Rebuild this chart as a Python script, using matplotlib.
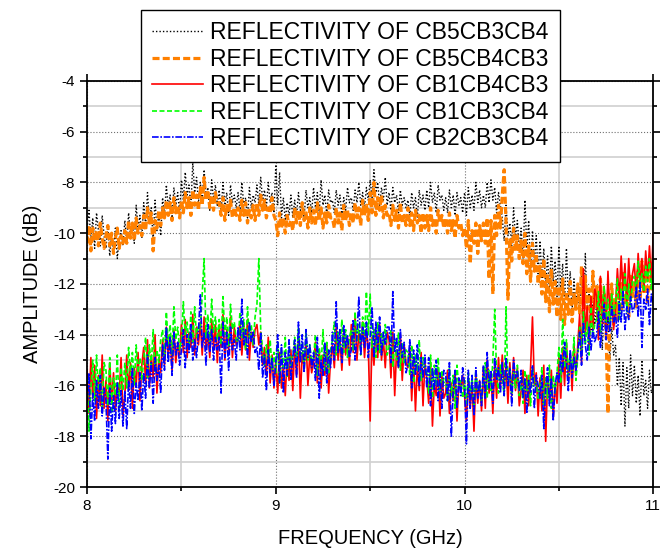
import numpy as np
import matplotlib.pyplot as plt
from matplotlib.ticker import MultipleLocator

plt.rcParams['font.family'] = ['Liberation Sans', 'DejaVu Sans']
plt.rcParams['axes.unicode_minus'] = False

# frequency axis (GHz), 0.01 GHz steps, 8 .. 11
freq = np.round(np.linspace(8.0, 11.0, 301), 2)

# CB5CB3CB4 (black dotted)  - one row per 0.1 GHz
cb5cb3cb4 = [
    -9.8, -9.1, -10.3, -9.4, -10.6, -9.2, -9.9, -10.5, -9.3, -10.1,
    -10.6, -9.7, -10.9, -10.0, -10.7, -9.8, -11.0, -10.2, -9.9, -10.5,
    -9.5, -10.3, -9.2, -10.1, -9.6, -10.4, -8.9, -9.8, -9.3, -10.2,
    -8.8, -9.7, -8.4, -9.5, -9.0, -10.3, -8.7, -9.9, -9.2, -10.1,
    -8.6, -9.3, -8.1, -9.0, -8.5, -9.4, -8.2, -8.9, -8.4, -9.2,
    -7.9, -8.7, -7.6, -8.5, -8.1, -9.0, -7.2, -8.4, -7.8, -8.8,
    -8.0, -8.8, -7.5, -8.6, -8.2, -9.1, -7.9, -8.7, -8.1, -8.9,
    -8.3, -9.2, -8.0, -8.9, -8.4, -9.3, -8.1, -8.8, -8.5, -9.0,
    -8.4, -9.1, -8.0, -8.9, -8.6, -9.4, -8.2, -9.0, -8.5, -8.8,
    -8.1, -8.9, -7.8, -8.7, -8.3, -9.0, -8.0, -8.8, -8.4, -9.2,
    -7.3, -8.9, -7.6, -9.4, -8.6, -9.5, -8.8, -9.3, -8.5, -9.4,
    -8.7, -9.3, -8.4, -9.1, -8.8, -9.4, -8.3, -9.0, -8.6, -9.2,
    -8.2, -9.0, -8.4, -9.2, -7.9, -8.9, -8.5, -9.3, -8.3, -8.8,
    -8.7, -9.2, -8.3, -8.9, -8.5, -9.3, -8.6, -9.1, -8.2, -8.8,
    -8.6, -9.1, -8.3, -8.8, -8.0, -8.9, -8.4, -9.0, -8.2, -8.7,
    -7.9, -8.6, -7.5, -8.4, -8.0, -8.9, -8.2, -8.7, -7.8, -8.9,
    -8.4, -9.1, -8.2, -8.8, -8.5, -9.2, -8.3, -8.9, -8.6, -9.0,
    -8.7, -9.3, -8.4, -9.0, -8.6, -9.4, -8.3, -8.9, -8.5, -9.1,
    -8.3, -9.0, -8.0, -8.8, -8.4, -9.2, -8.1, -8.7, -8.5, -9.1,
    -8.6, -9.2, -8.3, -9.0, -8.5, -9.3, -8.4, -8.9, -8.6, -9.2,
    -8.4, -9.3, -8.2, -9.0, -8.5, -9.1, -8.0, -8.8, -8.3, -9.0,
    -8.5, -9.0, -8.0, -8.8, -7.9, -8.7, -8.2, -9.2, -8.4, -8.9,
    -9.4, -10.3, -8.9, -10.1, -9.6, -10.5, -9.0, -10.2, -9.5, -10.6,
    -9.8, -11.0, -8.7, -10.6, -9.5, -11.4, -9.9, -11.2, -10.1, -11.6,
    -10.3, -11.8, -10.6, -12.1, -10.9, -12.3, -10.5, -11.9, -11.1, -12.5,
    -10.5, -12.3, -11.2, -12.8, -10.6, -12.6, -11.5, -13.0, -11.8, -12.9,
    -12.0, -13.2, -11.6, -13.5, -10.8, -13.0, -12.3, -13.8, -12.5, -13.6,
    -12.8, -14.2, -13.0, -14.6, -12.6, -14.0, -13.4, -15.0, -13.7, -14.8,
    -14.4, -16.0, -14.9, -16.8, -15.1, -17.6, -15.3, -16.9, -14.8, -16.4,
    -15.2, -16.7, -15.6, -17.2, -15.0, -16.4, -15.8, -16.9, -15.4, -16.3,
    -16.0,
]

# CB5CB4CB3 (orange dashed)
cb5cb4cb3 = [
    -10.4, -9.7, -10.7, -9.8, -10.3, -9.9, -10.5, -9.6, -10.2, -10.6,
    -10.1, -9.7, -10.5, -10.0, -10.8, -10.2, -9.8, -10.6, -10.1, -10.4,
    -9.9, -10.4, -9.5, -10.2, -9.6, -10.3, -9.4, -10.0, -9.7, -10.1,
    -9.3, -9.9, -9.0, -9.6, -9.2, -10.7, -9.5, -9.8, -9.1, -9.7,
    -9.0, -9.4, -8.7, -9.3, -8.8, -9.5, -8.6, -9.2, -8.9, -9.4,
    -8.7, -9.2, -8.4, -9.0, -8.6, -9.3, -8.3, -8.9, -8.5, -9.1,
    -8.2, -8.9, -7.8, -8.7, -8.3, -9.0, -8.5, -9.1, -8.4, -8.8,
    -8.8, -9.3, -8.6, -9.5, -8.9, -9.2, -8.7, -9.4, -9.0, -9.3,
    -9.0, -9.5, -8.7, -9.3, -8.8, -9.6, -9.1, -9.4, -8.9, -9.5,
    -8.8, -9.3, -8.5, -9.1, -8.7, -9.4, -9.0, -9.2, -8.6, -9.3,
    -9.5, -10.1, -9.2, -9.8, -9.4, -10.0, -9.3, -9.7, -9.5, -9.9,
    -9.0, -9.6, -9.1, -9.7, -8.8, -9.5, -9.2, -9.8, -9.0, -9.6,
    -9.1, -9.7, -8.8, -9.5, -9.0, -9.8, -9.2, -9.6, -8.9, -9.4,
    -9.4, -9.8, -9.0, -9.6, -9.2, -9.9, -8.9, -9.5, -9.1, -9.7,
    -9.2, -9.6, -8.8, -9.4, -9.0, -9.7, -8.7, -9.3, -8.9, -9.5,
    -8.4, -9.2, -8.0, -9.3, -8.6, -9.1, -8.5, -9.4, -8.9, -9.3,
    -9.2, -9.7, -8.9, -9.5, -9.1, -9.8, -8.8, -9.6, -9.3, -9.7,
    -9.0, -9.7, -9.2, -9.9, -9.1, -9.6, -9.3, -10.0, -9.2, -9.8,
    -9.3, -9.9, -9.0, -9.7, -9.4, -10.0, -9.1, -9.6, -9.3, -9.8,
    -9.4, -10.0, -9.2, -9.9, -9.5, -10.2, -9.3, -9.8, -9.6, -10.1,
    -9.8, -10.6, -9.5, -11.2, -9.9, -10.4, -9.6, -10.8, -9.7, -10.3,
    -9.6, -10.4, -9.4, -11.8, -9.5, -12.4, -9.3, -10.1, -8.9, -9.8,
    -8.5, -7.5, -9.6, -12.6, -10.2, -11.1, -9.8, -10.7, -10.1, -11.0,
    -10.3, -11.2, -10.0, -11.6, -10.5, -11.9, -10.4, -11.5, -10.8, -12.0,
    -11.3, -12.4, -11.0, -12.7, -11.6, -13.1, -11.4, -12.8, -11.9, -13.3,
    -12.1, -13.4, -11.8, -13.6, -12.3, -13.2, -11.9, -13.5, -12.4, -13.0,
    -12.0, -13.2, -11.3, -13.4, -11.7, -13.0, -12.2, -13.6, -11.5, -12.9,
    -12.1, -13.5, -11.8, -13.3, -12.4, -13.9, -17.1, -13.2, -12.0, -13.6,
    -12.6, -13.4, -11.9, -13.1, -11.5, -12.8, -12.2, -13.3, -11.7, -12.5,
    -11.9, -12.9, -11.4, -12.6, -11.1, -12.4, -11.6, -12.8, -11.2, -12.2,
    -11.5,
]

# CB1CB4CB3 (red solid)
cb1cb4cb3 = [
    -15.4, -17.1, -14.9, -16.5, -15.2, -17.3, -15.6, -16.8, -14.8, -16.9,
    -15.8, -17.4, -15.1, -16.7, -15.5, -17.0, -15.9, -16.4, -14.9, -17.2,
    -16.4, -14.8, -16.2, -15.1, -16.9, -15.3, -16.0, -14.7, -16.6, -15.2,
    -14.5, -15.9, -14.2, -16.1, -14.8, -15.7, -14.0, -16.3, -14.9, -15.5,
    -14.2, -15.2, -13.7, -14.9, -14.0, -15.4, -13.8, -15.1, -14.3, -14.8,
    -13.6, -14.7, -13.4, -14.9, -13.9, -14.5, -13.2, -14.8, -13.7, -14.4,
    -13.5, -14.8, -13.3, -14.6, -13.9, -14.9, -13.4, -14.5, -13.6, -15.1,
    -13.6, -14.5, -13.2, -15.0, -13.8, -14.6, -13.3, -14.9, -13.7, -14.4,
    -14.2, -13.5, -14.8, -13.7, -14.6, -13.4, -15.0, -13.9, -14.5, -13.8,
    -13.6, -14.4, -13.9, -15.2, -14.5, -15.6, -14.1, -15.9, -14.8, -16.1,
    -15.0, -16.3, -14.7, -16.1, -15.2, -16.4, -14.9, -15.8, -14.6, -16.2,
    -14.4, -15.6, -14.1, -16.5, -14.7, -15.3, -14.2, -16.0, -14.8, -15.5,
    -15.1, -14.3, -15.9, -14.6, -16.1, -14.8, -15.6, -14.4, -16.3, -15.0,
    -14.4, -15.3, -13.7, -15.0, -14.2, -15.4, -13.9, -14.8, -14.1, -15.2,
    -13.6, -14.7, -13.3, -15.0, -13.9, -14.6, -13.5, -14.9, -13.8, -14.5,
    -17.4, -14.1, -15.2, -13.8, -14.9, -13.6, -15.0, -14.2, -15.3, -13.9,
    -14.2, -15.7, -13.9, -16.4, -14.6, -15.3, -14.0, -15.8, -14.4, -15.1,
    -15.3, -14.5, -16.6, -14.9, -17.0, -15.2, -16.2, -14.7, -16.8, -15.1,
    -15.7, -16.7, -15.1, -17.6, -15.9, -16.4, -15.3, -17.2, -15.6, -16.5,
    -16.3, -15.4, -17.1, -15.9, -16.6, -15.5, -17.4, -15.8, -16.2, -15.6,
    -16.4, -17.4, -15.7, -16.9, -15.9, -17.8, -15.6, -16.7, -15.8, -17.0,
    -15.3, -16.9, -15.0, -16.3, -15.5, -17.1, -15.2, -16.5, -14.9, -16.1,
    -14.8, -16.1, -15.2, -16.7, -15.1, -16.4, -14.9, -16.2, -15.3, -16.8,
    -16.2, -15.4, -17.1, -15.6, -16.8, -15.3, -13.3, -16.0, -15.5, -17.2,
    -15.7, -17.0, -15.2, -18.2, -15.8, -16.6, -15.4, -17.3, -15.9, -16.7,
    -14.9, -16.5, -14.5, -16.0, -14.3, -15.8, -14.7, -16.2, -14.4, -15.6,
    -14.4, -13.2, -15.1, -11.4, -14.0, -12.9, -14.6, -12.5, -13.8, -12.2,
    -12.5, -14.2, -11.7, -13.6, -12.1, -14.0, -11.5, -13.2, -12.4, -13.8,
    -12.9, -11.4, -12.6, -10.9, -12.3, -11.2, -12.8, -11.0, -12.5, -11.6,
    -11.2, -12.5, -10.8, -12.0, -11.0, -12.3, -10.7, -11.8, -10.5, -11.9,
    -10.0,
]

# CB1CB3CB4 (green dashed)
cb1cb3cb4 = [
    -15.7, -17.8, -16.1, -15.0, -16.6, -14.8, -16.2, -15.3, -17.0, -15.1,
    -15.4, -16.8, -14.9, -17.1, -15.7, -16.4, -14.8, -16.9, -15.3, -16.2,
    -15.1, -16.1, -14.5, -15.6, -14.7, -16.0, -14.4, -15.5, -14.9, -15.8,
    -15.0, -14.1, -15.7, -14.4, -15.2, -13.8, -15.5, -14.6, -15.1, -14.2,
    -13.8, -14.9, -13.1, -14.4, -13.6, -14.8, -12.9, -14.2, -13.7, -14.6,
    -14.2, -12.7, -14.0, -13.5, -14.5, -13.1, -14.3, -12.9, -14.1, -13.6,
    -13.8, -12.4, -11.0, -14.1, -13.2, -14.3, -12.6, -13.9, -13.3, -14.2,
    -13.4, -14.4, -12.5, -14.0, -13.3, -14.5, -12.8, -13.8, -13.5, -14.2,
    -14.3, -13.1, -14.1, -13.4, -14.6, -12.9, -14.2, -13.6, -14.4, -13.3,
    -12.8, -11.0, -13.8, -14.6, -15.2, -14.4, -15.0, -14.2, -15.4, -14.7,
    -15.5, -14.3, -15.9, -14.6, -15.3, -14.1, -15.7, -14.5, -15.2, -14.8,
    -14.1, -15.2, -13.7, -14.9, -14.3, -15.4, -13.9, -15.0, -14.4, -15.1,
    -14.9, -14.0, -15.6, -14.5, -15.2, -13.8, -15.4, -14.3, -15.5, -14.6,
    -14.2, -13.5, -14.8, -13.9, -14.6, -13.4, -14.7, -13.8, -14.9, -14.1,
    -13.8, -14.6, -13.1, -14.3, -13.6, -14.8, -13.3, -14.2, -12.3, -14.0,
    -12.4, -14.5, -13.8, -14.9, -13.5, -14.7, -13.9, -14.4, -13.6, -14.8,
    -14.5, -13.8, -15.3, -14.2, -15.0, -13.9, -15.4, -14.3, -15.1, -14.6,
    -14.7, -15.6, -14.4, -15.9, -14.8, -15.4, -14.2, -15.8, -14.9, -15.3,
    -15.5, -16.3, -14.8, -16.5, -15.2, -16.0, -14.9, -16.2, -15.4, -15.9,
    -15.7, -16.6, -15.3, -16.4, -15.6, -16.9, -15.2, -16.1, -15.8, -16.5,
    -15.8, -16.7, -15.5, -16.4, -15.7, -16.9, -15.4, -16.2, -15.9, -16.6,
    -15.9, -15.1, -16.5, -15.4, -16.2, -15.0, -13.0, -15.6, -16.3, -15.2,
    -15.7, -16.4, -12.9, -16.0, -15.3, -16.3, -15.5, -16.1, -15.2, -16.4,
    -15.8, -16.7, -15.4, -16.2, -15.6, -16.8, -15.3, -16.0, -15.9, -16.5,
    -16.0, -15.3, -16.8, -15.7, -16.5, -15.2, -16.9, -15.6, -16.3, -15.5,
    -14.5, -15.9, -13.4, -15.3, -14.2, -15.6, -14.8, -15.4, -14.1, -15.8,
    -14.9, -13.7, -14.6, -13.1, -14.4, -13.5, -14.8, -12.9, -14.1, -13.6,
    -13.4, -12.3, -13.9, -12.9, -12.1, -13.5, -12.6, -13.7, -12.4, -13.2,
    -12.8, -11.8, -13.4, -12.2, -12.6, -11.6, -13.1, -12.0, -12.9, -11.9,
    -11.7, -12.4, -11.1, -12.0, -11.6, -12.3, -11.3, -11.9, -11.0, -12.2,
    -11.5,
]

# CB2CB3CB4 (blue dash-dot)
cb2cb3cb4 = [
    -16.7, -15.5, -18.1, -16.3, -17.4, -15.8, -16.9, -15.6, -17.2, -16.1,
    -16.6, -18.9, -16.1, -17.8, -16.4, -17.5, -15.9, -17.3, -16.2, -17.6,
    -16.2, -17.7, -15.8, -16.9, -15.3, -17.1, -15.9, -16.6, -15.5, -17.0,
    -15.5, -16.5, -14.8, -16.1, -15.1, -16.7, -14.9, -15.8, -15.2, -16.3,
    -14.4, -15.4, -13.7, -15.1, -14.1, -15.6, -13.9, -14.8, -14.3, -15.2,
    -14.6, -13.8, -15.3, -14.0, -14.7, -13.6, -15.0, -14.2, -14.9, -13.9,
    -12.4, -14.5, -13.9, -15.2, -13.6, -14.7, -13.8, -15.0, -14.1, -14.6,
    -14.1, -16.3, -13.5, -14.9, -13.9, -15.4, -13.7, -14.6, -14.2, -15.0,
    -13.7, -14.6, -12.6, -14.4, -13.8, -14.9, -13.5, -14.3, -13.9, -14.7,
    -14.5, -15.4, -13.9, -15.7, -14.8, -16.2, -14.6, -15.5, -14.9, -16.0,
    -15.1, -14.0, -15.9, -14.4, -16.3, -14.7, -15.6, -14.2, -15.8, -14.9,
    -14.2, -15.7, -13.5, -15.1, -14.0, -15.5, -13.8, -14.9, -14.4, -15.3,
    -14.7, -15.8, -14.1, -16.5, -15.0, -15.6, -14.3, -15.9, -14.6, -15.3,
    -13.9, -15.0, -12.7, -14.7, -13.8, -15.1, -13.6, -14.5, -14.0, -14.9,
    -14.6, -13.4, -15.0, -14.0, -12.5, -14.8, -13.7, -14.5, -13.5, -14.9,
    -14.1, -12.9, -14.9, -13.5, -14.6, -13.3, -14.8, -13.9, -14.4, -13.7,
    -13.7, -15.1, -12.3, -14.7, -14.1, -15.3, -13.8, -14.9, -14.3, -15.5,
    -15.2, -14.2, -16.1, -14.6, -15.6, -14.4, -16.0, -14.9, -15.7, -14.8,
    -16.1, -14.9, -16.8, -15.3, -16.2, -15.0, -16.6, -15.5, -16.9, -15.4,
    -15.5, -16.6, -15.1, -18.0, -16.2, -15.4, -16.9, -15.7, -16.4, -15.3,
    -15.9, -18.3, -15.4, -16.9, -15.6, -17.2, -15.3, -16.5, -15.8, -16.8,
    -15.2, -16.5, -14.7, -16.1, -15.4, -16.7, -14.9, -15.8, -15.3, -16.3,
    -15.1, -16.4, -14.9, -16.0, -15.3, -16.8, -15.0, -15.7, -15.4, -16.2,
    -15.4, -16.5, -15.7, -17.1, -15.8, -16.3, -15.2, -16.9, -15.6, -16.0,
    -16.5, -15.6, -17.7, -16.1, -15.3, -16.8, -15.7, -17.4, -16.0, -15.5,
    -15.9, -14.8, -15.5, -14.3, -15.1, -16.2, -14.6, -15.7, -14.9, -15.4,
    -14.7, -13.9, -15.2, -13.5, -14.4, -15.0, -13.7, -14.6, -13.8, -14.3,
    -14.0, -13.1, -14.5, -13.6, -12.8, -14.2, -13.3, -13.9, -12.9, -13.5,
    -13.2, -14.1, -12.7, -13.5, -12.3, -13.8, -12.9, -13.4, -12.5, -13.1,
    -12.9, -12.1, -13.3, -11.9, -14.5, -12.6, -13.0, -12.2, -13.6, -12.4,
    -12.8,
]

fig = plt.figure(figsize=(6.7, 5.5), dpi=100)
ax = fig.add_axes([0.130, 0.1145, 0.845, 0.7385])

ax.plot(freq, cb5cb3cb4, color='black', linestyle=(0, (1, 1.5)), lw=1.0,
        label='REFLECTIVITY OF CB5CB3CB4')
ax.plot(freq, cb5cb4cb3, color='#ff8000', linestyle=(0, (2.2, 1.0)), lw=2.3,
        label='REFLECTIVITY OF CB5CB4CB3')
ax.plot(freq, cb1cb4cb3, color='#ff0000', linestyle='-', lw=1.2,
        label='REFLECTIVITY OF CB1CB4CB3')
ax.plot(freq, cb1cb3cb4, color='#00ff00', linestyle=(0, (3, 1.5)), lw=1.2,
        label='REFLECTIVITY OF CB1CB3CB4')
ax.plot(freq, cb2cb3cb4, color='#0000ff', linestyle=(0, (4, 1, 1, 1)), lw=1.2,
        label='REFLECTIVITY OF CB2CB3CB4')

ax.set_xlim(8, 11)
ax.set_ylim(-20, -4)
ax.xaxis.set_major_locator(MultipleLocator(1))
ax.xaxis.set_minor_locator(MultipleLocator(0.5))
ax.yaxis.set_major_locator(MultipleLocator(2))
ax.yaxis.set_minor_locator(MultipleLocator(1))

ax.grid(which='major', color='#707070', linestyle=':', lw=0.8)
ax.grid(which='minor', color='#d0d0d0', linestyle='-', lw=1.2)
ax.set_axisbelow(True)

ax.tick_params(which='both', direction='out', top=True, right=True,
               labelsize=11, width=1.2)
ax.tick_params(which='major', length=5)
ax.tick_params(which='minor', length=3)
for s in ax.spines.values():
    s.set_linewidth(1.3)

ax.set_xlabel('FREQUENCY (GHz)', fontsize=14.5, labelpad=12)
ax.set_ylabel('AMPLITUDE (dB)', fontsize=14.5, labelpad=8)

leg = fig.legend(loc='upper left', bbox_to_anchor=(141 / 670, 1 - 10 / 550),
                 fontsize=16.5, frameon=True, fancybox=False,
                 edgecolor='black', framealpha=1, handlelength=2.2,
                 handletextpad=0.3, labelspacing=0.15, borderpad=0.5,
                 borderaxespad=0)
leg.get_frame().set_linewidth(1.0)

fig.savefig('out.png', dpi=100)
